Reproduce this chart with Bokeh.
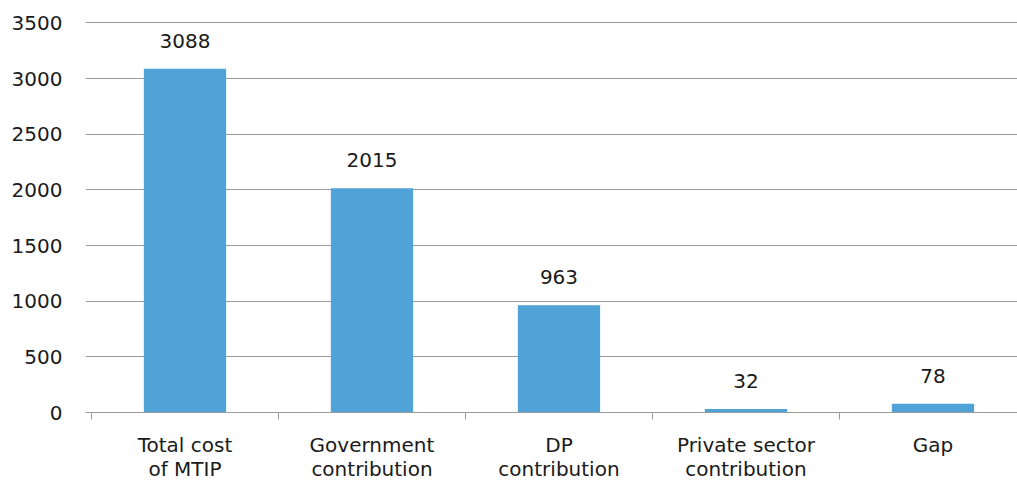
from bokeh.plotting import figure
from bokeh.models import Range1d, FixedTicker, ColumnDataSource
from bokeh.core.properties import value
from bokeh.embed import file_html
from bokeh.resources import INLINE

categories = ["Total cost\nof MTIP", "Government\ncontribution", "DP\ncontribution",
              "Private sector\ncontribution", "Gap"]
values = [3088, 2015, 963, 32, 78]
y_ticks = [0, 500, 1000, 1500, 2000, 2500, 3000, 3500]

centers = [i + 0.5 for i in range(len(categories))]
bounds = list(range(len(categories) + 1))
src = ColumnDataSource(dict(x=centers, top=values, label=[str(v) for v in values]))

FONT = "DejaVu Sans"
p = figure(width=1017, height=483, output_backend="svg", toolbar_location=None,
           x_range=Range1d(-0.032, 4.952), y_range=Range1d(0, 3530),
           min_border_left=85, min_border_right=0, min_border_top=19, min_border_bottom=71)
p.outline_line_color = None
p.background_fill_color = "white"

p.vbar(x="x", top="top", width=0.44, source=src, color="#4fa3d6", line_color=None)
p.text(x="x", y="top", text="label", source=src, text_align="center",
       text_baseline="alphabetic", y_offset=-28, text_font=value(FONT),
       text_font_size="20px", text_color="#1a1a1a")

# y axis
p.yaxis.ticker = FixedTicker(ticks=y_ticks)
p.yaxis.axis_line_color = None
p.yaxis.major_tick_line_color = None
p.yaxis.minor_tick_line_color = None
p.yaxis.major_tick_out = 0
p.yaxis.major_tick_in = 0
p.yaxis.major_label_standoff = 23
p.yaxis.major_label_text_font = FONT
p.yaxis.major_label_text_font_size = "20px"
p.yaxis.major_label_text_color = "#1a1a1a"
p.ygrid.grid_line_color = "#9a9a9a"
p.ygrid.grid_line_width = 1
p.ygrid.ticker = FixedTicker(ticks=y_ticks)

# x axis
p.xgrid.grid_line_color = None
p.xaxis.ticker = FixedTicker(ticks=centers, minor_ticks=bounds)
p.xaxis.major_label_overrides = {c: lab for c, lab in zip(centers, categories)}
p.xaxis.axis_line_color = "#9a9a9a"
p.xaxis.major_tick_line_color = None
p.xaxis.minor_tick_line_color = "#9a9a9a"
p.xaxis.minor_tick_in = 0
p.xaxis.minor_tick_out = 7
p.xaxis.major_tick_out = 0
p.xaxis.major_tick_in = 0
p.xaxis.major_label_standoff = 13
p.xaxis.major_label_text_font = FONT
p.xaxis.major_label_text_font_size = "20px"
p.xaxis.major_label_text_color = "#1a1a1a"
p.xaxis.major_label_text_line_height = 1.0

open("out.html", "w").write(file_html(p, INLINE))
